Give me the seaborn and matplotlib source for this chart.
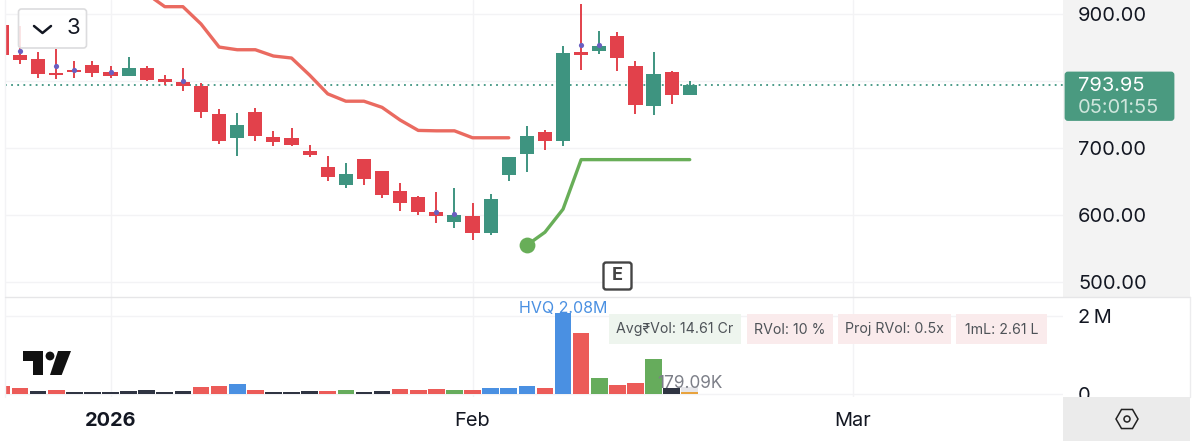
import numpy as np
import pandas as pd
import matplotlib
matplotlib.use("Agg")
import matplotlib.pyplot as plt
from matplotlib.patches import Rectangle, FancyBboxPatch, Polygon, Circle, RegularPolygon
import seaborn as sns

# daily session data
opens = [884, 839.1, 832.6, 811.7, 816.2, 824.1, 813.2, 807.6, 819.6, 803.6, 799.1, 792.2, 750.3,
         714.4, 754.2, 716.8, 715.3, 695.4, 670.9, 644.5, 682.9, 665.4, 635.5, 627, 604, 589.5,
         597.6, 573, 659.9, 690.4, 724.3, 709.9, 844, 844.6, 868, 823, 762.7, 814.1, 778.7]
closes = [839.1, 831.6, 810.6, 808.7, 813.2, 812.6, 807.6, 819.6, 801.6, 799.1, 792.2, 754.2, 709.9,
          733.8, 717.4, 708.4, 704.8, 689.8, 657.2, 660.9, 653.9, 629.5, 617.1, 604, 597.6, 599.1,
          573, 623.5, 685.9, 718.3, 709.9, 841.6, 839.1, 852.1, 835, 764.2, 810.6, 779.2, 793.95]
highs = [884, 882.5, 844, 848, 829.6, 830.1, 823, 836.1, 823, 808.7, 819.6, 796.7, 758.2,
         752.7, 760.2, 725.3, 729.3, 704.3, 688.3, 676.9, 682.9, 665.4, 647, 628, 633.5, 639.5,
         617, 630.5, 685.9, 733.2, 726.8, 852.1, 915, 875, 873, 830, 844, 815.2, 800.2]
lows = [839.1, 825.6, 804.2, 803.1, 805.1, 806.6, 805.1, 807.6, 800.1, 794.2, 785.6, 744.8, 706.3,
        687.4, 709.9, 703.3, 702.8, 686.8, 650, 640, 644, 625.4, 605.5, 600, 587.1, 580.5,
        562.1, 570, 650.4, 663.5, 696.4, 702.4, 816.2, 841, 815.6, 750.7, 749.7, 765.8, 778.7]

# upper and lower trend lines, indexed by session
upper_idx = list(range(8, 29))
upper_band = [930.6, 911.4, 911.4, 885.5, 851, 847, 847, 837.6, 834.6, 809, 781, 770, 770, 760.8,
              741.8, 726.3, 725.7, 725.7, 715.3, 715.3, 715.3]
lower_idx = list(range(29, 39))
lower_band = [554.6, 574, 608.5, 682.6, 682.6, 682.6, 682.6, 682.6, 682.6, 682.6]

# small markers riding on selected candles
marker_idx = [1, 3, 4, 6, 10, 24, 25, 32, 33]
marker_price = [845, 823, 816, 814, 800, 604, 601, 854, 854]

# traded volume in millions
volumes = [0.22, 0.154, 0.085, 0.11, 0.06, 0.06, 0.06, 0.08, 0.1, 0.06, 0.08, 0.19, 0.205, 0.265,
           0.11, 0.06, 0.06, 0.08, 0.095, 0.11, 0.06, 0.077, 0.137, 0.12, 0.137, 0.12, 0.12, 0.163,
           0.163, 0.206, 0.154, 2.08, 1.585, 0.428, 0.25, 0.29, 0.917, 0.154, 0.055]
volume_kinds = ["down", "down", "flat", "down", "flat", "flat", "flat", "flat", "flat", "flat", "flat",
                "down", "down", "high", "down", "flat", "flat", "flat", "down", "up", "flat", "flat",
                "down", "down", "down", "up", "down", "high", "high", "high", "down", "high", "down",
                "up", "down", "down", "up", "flat", "live"]
projected_volume = 0.17909

price_ticks = [900, 800, 700, 600, 500]
# the 800 level stays unlabelled: the last-price tag covers that spot
price_labels = ["900.00", "", "700.00", "600.00", "500.00"]
month_ticks = [6, 26, 47]
month_labels = ["2026", "Feb", "Mar"]
last_price = 793.95

RED, GREEN = "#E2414B", "#3E9480"
volume_palette = {"down": "#EC5B58", "up": "#66AC5C", "high": "#4A90E2", "flat": "#2F3442", "live": "#E8A33D"}
GRID = "#F3F3F5"
FONT = ["Inter", "DejaVu Sans"]
TICK_SIZE = 14.4

sns.set_theme(style="white")
plt.rcParams["font.family"] = FONT

W, H = 1200, 441
fig = plt.figure(figsize=(W / 100, H / 100), dpi=100, facecolor="white")


def px_axes(x0, y0, x1, y1, **kw):
    return fig.add_axes([x0 / W, 1 - y1 / H, (x1 - x0) / W, (y1 - y0) / H], **kw)


# panel backgrounds sit behind everything
bg = fig.add_axes([0, 0, 1, 1], zorder=-1)
bg.set_xlim(0, W); bg.set_ylim(H, 0); bg.axis("off")
bg.add_patch(Rectangle((1063, 0), 127, 297, fc="#F3F3F3", ec="none"))

price_ax = px_axes(5, 0, 1063, 297, zorder=1)
vol_ax = px_axes(5, 297, 1063, 397, zorder=1)
X_LIMITS = (0.171, 58.62)

# candles
idx = np.arange(len(opens))
colors = [GREEN if c >= o else RED for o, c in zip(opens, closes)]
price_ax.vlines(idx, lows, highs, colors=colors, lw=1.4, zorder=3)
price_ax.bar(idx, np.abs(np.subtract(closes, opens)), bottom=np.minimum(opens, closes),
             width=0.78, color=colors, linewidth=0, zorder=4)

# trend lines and markers
sns.lineplot(x=upper_idx, y=upper_band, color="#EA6A60", lw=2.4, ax=price_ax, zorder=5)
sns.lineplot(x=lower_idx, y=lower_band, color="#68AE58", lw=2.4, ax=price_ax, zorder=5)
sns.scatterplot(x=lower_idx[:1], y=lower_band[:1], color="#68AE58", s=130, linewidth=0, ax=price_ax, zorder=6)
sns.scatterplot(x=marker_idx, y=marker_price, color="#6A5FC0", s=14, linewidth=0, ax=price_ax, zorder=6)
price_ax.axhline(last_price, color="#3E9480", lw=1.3, ls=(0, (1, 2.4)), zorder=2)

price_ax.set_xlim(*X_LIMITS)
price_ax.set_ylim(477.1, 921.4)
price_ax.set_xticks(month_ticks)
price_ax.set_yticks(price_ticks, price_labels)
price_ax.yaxis.tick_right()
price_ax.tick_params(axis="y", length=0, pad=10.8, labelsize=TICK_SIZE, colors="#131722")
price_ax.tick_params(axis="x", length=0, labelbottom=False)
price_ax.grid(True, color=GRID, lw=1.0)
price_ax.set_axisbelow(True)
for s in price_ax.spines.values():
    s.set_visible(False)

# volume pane
vol_df = pd.DataFrame({"session": idx, "volume": volumes, "kind": volume_kinds})
sns.barplot(x=[idx[-1]], y=[projected_volume], native_scale=True, color="#E6E6EA", saturation=1,
            width=0.92, errorbar=None, linewidth=0, ax=vol_ax, zorder=3)
sns.barplot(data=vol_df, x="session", y="volume", hue="kind", palette=volume_palette, native_scale=True,
            dodge=False, width=0.92, saturation=1, errorbar=None, legend=False, linewidth=0, ax=vol_ax, zorder=4)
vol_ax.set_xlabel(""); vol_ax.set_ylabel("")
vol_ax.set_xlim(*X_LIMITS)
vol_ax.set_ylim(-0.069, 2.501)
vol_ax.set_xticks(month_ticks, month_labels)
vol_ax.set_yticks([0, 2], ["0", "2\u2009M"])
vol_ax.yaxis.tick_right()
vol_ax.tick_params(axis="y", length=0, pad=10.8, labelsize=TICK_SIZE, colors="#131722")
vol_ax.tick_params(axis="x", length=0, pad=10.5, labelsize=TICK_SIZE, colors="#131722")
vol_ax.get_xticklabels()[0].set_fontweight("bold")
vol_ax.grid(True, color=GRID, lw=1.0)
vol_ax.set_axisbelow(True)
for s in vol_ax.spines.values():
    s.set_visible(False)
vol_ax.patch.set_alpha(0)

# annotations tied to the volume bars
vol_ax.text(31, 2.20, "HVQ 2.08M", color="#4A90E2", fontsize=11.5, ha="center", va="center", zorder=6)
vol_ax.text(38, 0.27, "179.09K", color="#7C7F88", fontsize=12.4, ha="center", va="center", zorder=6)

# interface furniture in figure pixels
fg = fig.add_axes([0, 0, 1, 1], zorder=5)
fg.set_xlim(0, W); fg.set_ylim(H, 0); fg.axis("off"); fg.patch.set_alpha(0)

fg.plot([5, 5], [0, 397], color=GRID, lw=1)
fg.plot([5, 1190], [297, 297], color="#E6E6E8", lw=1)
fg.plot([1190, 1190], [297, 397], color="#ECECEE", lw=1)
fg.add_patch(Rectangle((1063, 397), 127, 44, fc="#EBEBEB", ec="none"))
fg.add_patch(RegularPolygon((1127, 419), 6, radius=11, orientation=np.pi / 2, fc="none", ec="#222222", lw=1.1))
fg.add_patch(Circle((1127, 419), 3, fc="none", ec="#222222", lw=1.1))

# last-price tag
fg.add_patch(FancyBboxPatch((1066, 73), 107, 46.5, boxstyle="round,pad=0,rounding_size=2",
                            fc="#4A9A80", ec="#4A9A80", lw=2))
fg.text(1078, 86, "793.95", color="white", fontsize=TICK_SIZE, va="center", ha="left")
fg.text(1078, 108, "05:01:55", color="#CFE6DD", fontsize=TICK_SIZE, va="center", ha="left")

# stat badges over the volume pane
badges = [(609, 741, "Avg₹Vol: 14.61 Cr", "#EEF5EE"), (747, 833, "RVol: 10 %", "#FAEBEC"),
          (838, 951, "Proj RVol: 0.5x", "#FAEBEC"), (956, 1047, "1mL: 2.61 L", "#FAEBEC")]
for x0, x1, label, face in badges:
    fg.add_patch(Rectangle((x0, 314), x1 - x0, 30, fc=face, ec="none"))
    fg.text((x0 + x1) / 2, 329.5, label, color="#4E5358", fontsize=10.2, ha="center", va="center")

# collapse control
fg.add_patch(FancyBboxPatch((18.5, 9), 68, 39, boxstyle="round,pad=0,rounding_size=3",
                            fc=(1, 1, 1, 0.86), ec="#DCDCDE", lw=1.2))
fg.plot([34, 42.5, 51], [26, 33, 26], color="#131722", lw=1.8, solid_capstyle="round")
fg.text(73.5, 28.5, "3", color="#131722", fontsize=16, ha="center", va="center")

# earnings flag
fg.add_patch(FancyBboxPatch((603.5, 262.5), 28, 27, boxstyle="round,pad=0,rounding_size=2.5",
                            fc="white", ec="#444444", lw=1.7))
fg.text(617.5, 276, "E", color="#444444", fontsize=13, fontweight="bold", ha="center", va="center")

# logo mark
logo = "#111111"
fg.add_patch(Polygon([(23.3, 351), (42.7, 351), (42.7, 375), (33.3, 375), (33.3, 360.7), (23.3, 360.7)], fc=logo, ec="none"))
fg.add_patch(Circle((50, 356), 4.4, fc=logo, ec="none"))
fg.add_patch(Polygon([(58, 351), (71, 351), (61.7, 375), (50, 375)], fc=logo, ec="none"))

fig.savefig("out.png", dpi=100, facecolor="white")
